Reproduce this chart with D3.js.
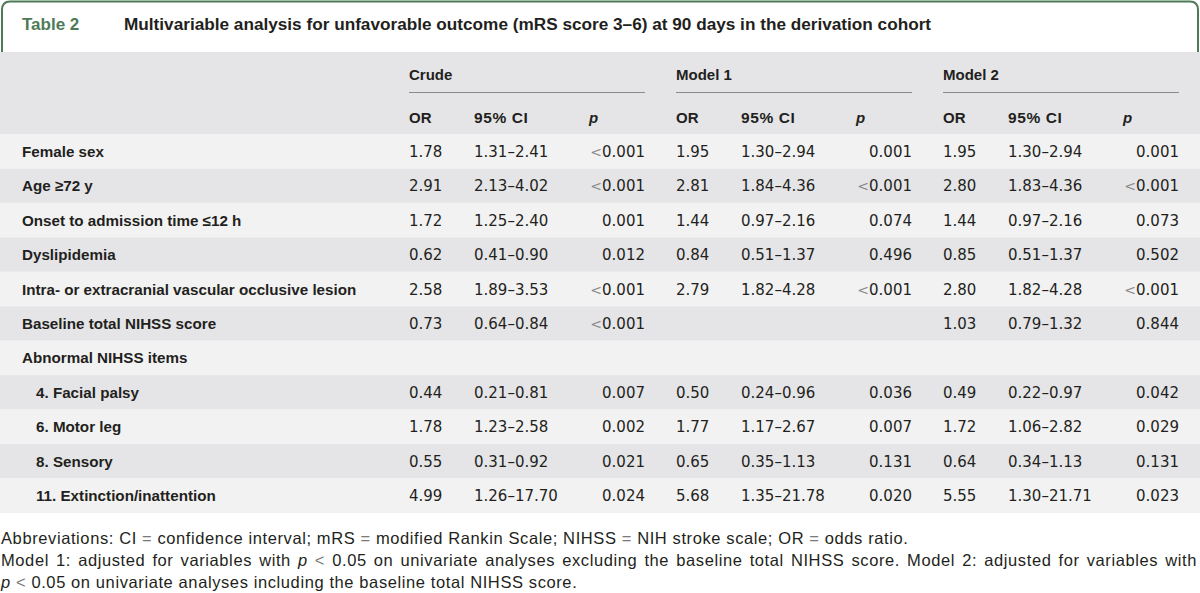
<!DOCTYPE html>
<html>
<head>
<meta charset="utf-8">
<script src="https://cdn.jsdelivr.net/npm/d3@7"></script>
<style>
  html, body { margin: 0; padding: 0; background: #ffffff; }
  svg { display: block; }
</style>
</head>
<body>
<svg id="chart" width="1200" height="593"></svg>
<script>
// ---------------- DATA ----------------
const tableLabel = "Table 2";
const tableTitle = "Multivariable analysis for unfavorable outcome (mRS score 3–6) at 90 days in the derivation cohort";
const groups = ["Crude", "Model 1", "Model 2"];
const subHeads = ["OR", "95% CI", "p"];
const rowLabels = [
  "Female sex",
  "Age ≥72 y",
  "Onset to admission time ≤12 h",
  "Dyslipidemia",
  "Intra- or extracranial vascular occlusive lesion",
  "Baseline total NIHSS score",
  "Abnormal NIHSS items",
  "4. Facial palsy",
  "6. Motor leg",
  "8. Sensory",
  "11. Extinction/inattention"
];
const rowIndent = [0, 0, 0, 0, 0, 0, 0, 1, 1, 1, 1];
const crudeOR = ["1.78", "2.91", "1.72", "0.62", "2.58", "0.73", "", "0.44", "1.78", "0.55", "4.99"];
const crudeCI = ["1.31–2.41", "2.13–4.02", "1.25–2.40", "0.41–0.90", "1.89–3.53", "0.64–0.84", "", "0.21–0.81", "1.23–2.58", "0.31–0.92", "1.26–17.70"];
const crudeP  = ["<0.001", "<0.001", "0.001", "0.012", "<0.001", "<0.001", "", "0.007", "0.002", "0.021", "0.024"];
const model1OR = ["1.95", "2.81", "1.44", "0.84", "2.79", "", "", "0.50", "1.77", "0.65", "5.68"];
const model1CI = ["1.30–2.94", "1.84–4.36", "0.97–2.16", "0.51–1.37", "1.82–4.28", "", "", "0.24–0.96", "1.17–2.67", "0.35–1.13", "1.35–21.78"];
const model1P  = ["0.001", "<0.001", "0.074", "0.496", "<0.001", "", "", "0.036", "0.007", "0.131", "0.020"];
const model2OR = ["1.95", "2.80", "1.44", "0.85", "2.80", "1.03", "", "0.49", "1.72", "0.64", "5.55"];
const model2CI = ["1.30–2.94", "1.83–4.36", "0.97–2.16", "0.51–1.37", "1.82–4.28", "0.79–1.32", "", "0.22–0.97", "1.06–2.82", "0.34–1.13", "1.30–21.71"];
const model2P  = ["0.001", "<0.001", "0.073", "0.502", "<0.001", "0.844", "", "0.042", "0.029", "0.131", "0.023"];
const footnoteLines = [
  "Abbreviations: CI = confidence interval; mRS = modified Rankin Scale; NIHSS = NIH stroke scale; OR = odds ratio.",
  "Model 1: adjusted for variables with p < 0.05 on univariate analyses excluding the baseline total NIHSS score. Model 2: adjusted for variables with",
  "p < 0.05 on univariate analyses including the baseline total NIHSS score."
];
const footnoteJustify = [false, true, false];

// ---------------- LAYOUT / STYLE ----------------
const W = 1200, H = 593;
const green = "#4e7b57";
const ink = "#231f20";
const headBg = "#e5e5e7";
const rowDark = "#e5e5e7";
const rowLight = "#f2f2f2";
const labelFont = "'Liberation Sans', Arial, sans-serif";
const numFont = "'DejaVu Sans', 'Liberation Sans', sans-serif";

const svg = d3.select("#chart");

const seriesOR = [crudeOR, model1OR, model2OR];
const seriesCI = [crudeCI, model1CI, model2CI];
const seriesP  = [crudeP, model1P, model2P];

// scales
const y = d3.scaleBand().domain(d3.range(rowLabels.length)).range([134, 513]).padding(0);
const gx = d3.scaleBand().domain(groups).range([409, 409 + 3 * 267]).padding(0);
const sub = d3.scaleOrdinal().domain(["OR", "CI", "pHead", "pRight"]).range([0, 65, 180, 236]);

// ---------------- TITLE BOX ----------------
svg.append("path")
  .attr("d", "M2,53 V10 Q2,1.5 10,1.5 H1190 Q1198,1.5 1198,10 V53")
  .attr("fill", "#ffffff")
  .attr("stroke", green)
  .attr("stroke-width", 2);

svg.append("text")
  .attr("x", 22).attr("y", 30)
  .attr("font-family", labelFont).attr("font-weight", "bold").attr("font-size", 17)
  .attr("fill", green)
  .text(tableLabel);

svg.append("text")
  .attr("x", 124).attr("y", 30)
  .attr("font-family", labelFont).attr("font-weight", "bold").attr("font-size", 17.2)
  .attr("fill", ink)
  .text(tableTitle);

// ---------------- HEADER ----------------
svg.append("rect").attr("x", 0).attr("y", 52).attr("width", W).attr("height", 82).attr("fill", headBg);

const gHead = svg.append("g").selectAll("g").data(groups).join("g")
  .attr("transform", d => `translate(${gx(d)},0)`);

gHead.append("text")
  .attr("x", 0).attr("y", 80)
  .attr("font-family", labelFont).attr("font-weight", "bold").attr("font-size", 15)
  .attr("fill", ink)
  .text(d => d);

gHead.append("line")
  .attr("x1", 0).attr("x2", sub("pRight"))
  .attr("y1", 92.5).attr("y2", 92.5)
  .attr("stroke", "#8a8a8a").attr("stroke-width", 1.2);

gHead.append("text").attr("x", sub("OR")).attr("y", 123)
  .attr("font-family", labelFont).attr("font-weight", "bold").attr("font-size", 15).attr("fill", ink)
  .text(subHeads[0]);
gHead.append("text").attr("x", sub("CI")).attr("y", 123)
  .attr("font-family", labelFont).attr("font-weight", "bold").attr("font-size", 15.5).attr("fill", ink)
  .attr("letter-spacing", 0.6)
  .text(subHeads[1]);
gHead.append("text").attr("x", sub("pHead")).attr("y", 123)
  .attr("font-family", labelFont).attr("font-weight", "bold").attr("font-style", "italic").attr("font-size", 15).attr("fill", ink)
  .text(subHeads[2]);

// ---------------- BODY ROWS ----------------
const rows = svg.append("g").selectAll("g").data(rowLabels.map((l, i) => i)).join("g")
  .attr("transform", i => `translate(0,${y(i)})`);

rows.append("rect")
  .attr("x", 0).attr("y", 0).attr("width", W).attr("height", y.bandwidth())
  .attr("fill", i => i % 2 === 0 ? rowLight : rowDark);

const baseY = y.bandwidth() / 2 + 5.5;

rows.append("text")
  .attr("x", i => rowIndent[i] ? 36 : 22)
  .attr("y", baseY)
  .attr("font-family", labelFont).attr("font-weight", "bold").attr("font-size", 15.2)
  .attr("fill", ink)
  .text(i => rowLabels[i]);

groups.forEach((g, gi) => {
  const x0 = gx(g);
  rows.append("text")
    .attr("x", x0 + sub("OR")).attr("y", baseY)
    .attr("font-family", numFont).attr("font-size", 15).attr("fill", ink)
    .text(i => seriesOR[gi][i]);
  rows.append("text")
    .attr("x", x0 + sub("CI")).attr("y", baseY)
    .attr("font-family", numFont).attr("font-size", 15).attr("fill", ink)
    .text(i => seriesCI[gi][i]);
  const pt = rows.append("text")
    .attr("x", x0 + sub("pRight")).attr("y", baseY)
    .attr("text-anchor", "end")
    .attr("font-family", numFont).attr("font-size", 15).attr("fill", ink);
  pt.each(function(i) {
    const v = seriesP[gi][i];
    const t = d3.select(this);
    if (v.startsWith("<")) {
      t.append("tspan").attr("fill", "#8a8a8a").attr("font-size", 14).text("<");
      t.append("tspan").text(v.slice(1));
    } else {
      t.text(v);
    }
  });
});

// ---------------- FOOTNOTES ----------------
const footBase = [544, 566, 588];
const footSize = 16.5;
const footLS = 0.6;
footnoteLines.forEach((line, li) => {
  const words = line.split(" ");
  const gF = svg.append("g");
  const nodes = words.map(w => {
    const t = gF.append("text")
      .attr("y", footBase[li])
      .attr("font-family", labelFont).attr("font-size", footSize)
      .attr("letter-spacing", footLS)
      .attr("fill", (w === "=" || w === "<") ? "#7a7a7a" : ink)
      .attr("font-style", w === "p" ? "italic" : null)
      .text(w);
    return t;
  });
  const widths = nodes.map(n => n.node().getComputedTextLength());
  const total = d3.sum(widths);
  const spaceW = footSize * 0.278 + footLS;
  const gap = footnoteJustify[li] ? (1197 - 1 - total) / (words.length - 1) : spaceW;
  let x = 1;
  nodes.forEach((n, k) => {
    n.attr("x", x);
    x += widths[k] + gap;
  });
});
</script>
</body>
</html>
